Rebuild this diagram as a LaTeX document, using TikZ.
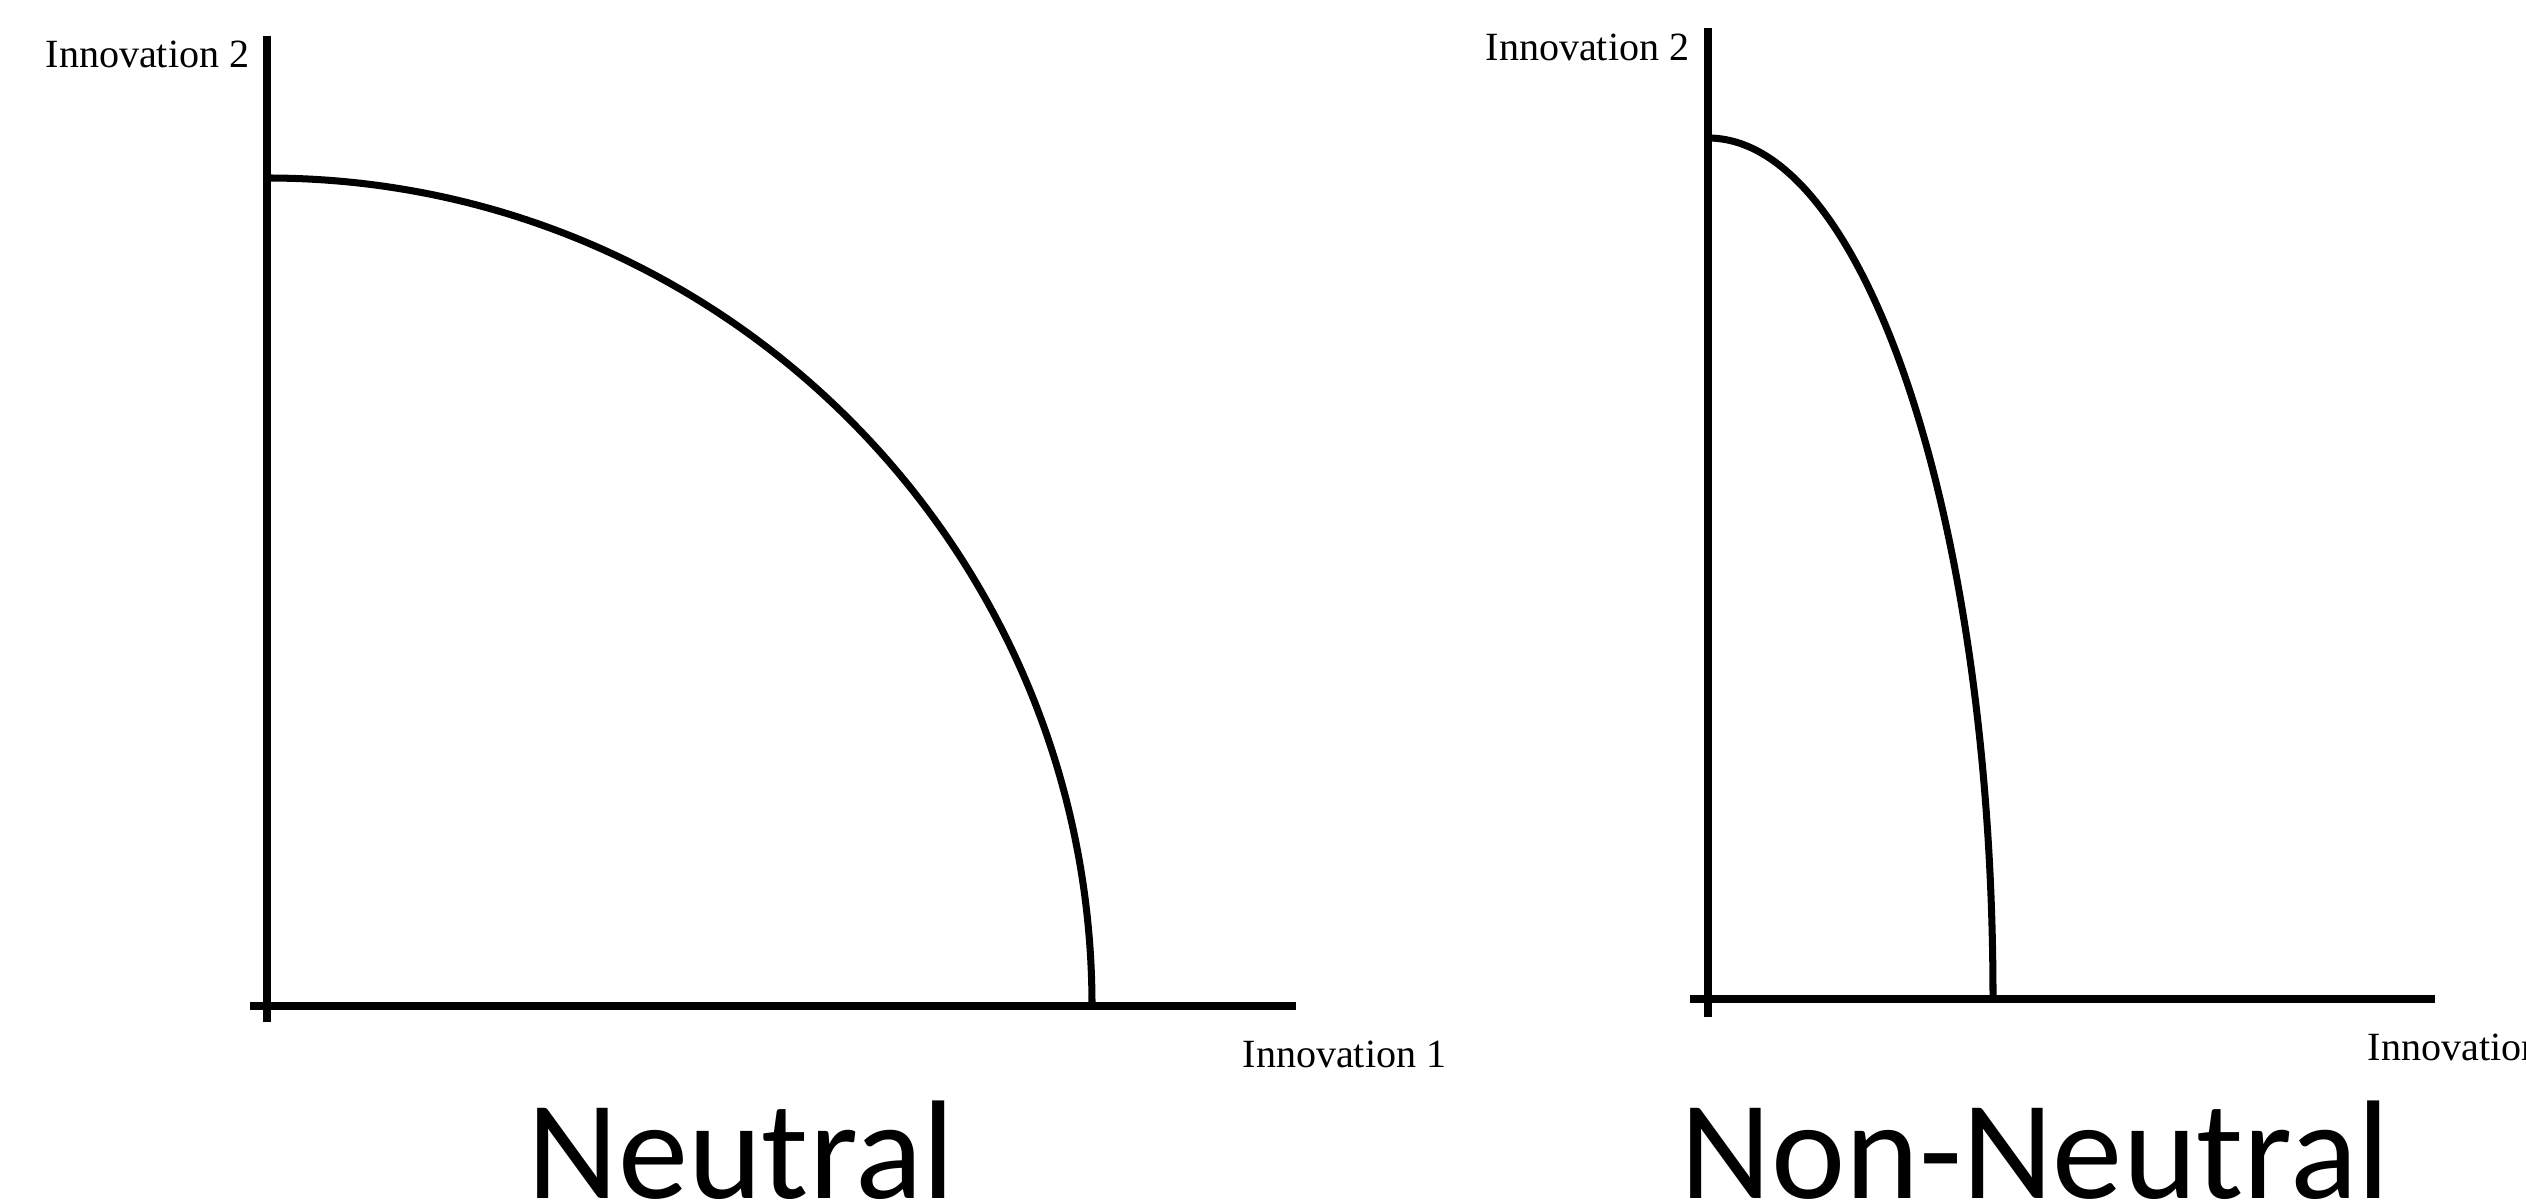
\documentclass[tikz,border=0pt]{standalone}
\usepackage{fontspec}
\setmainfont{Liberation Serif}
\newfontfamily\titlefont{Carlito}
\usepackage{tikz}

\begin{document}
\begin{tikzpicture}[
        axis/.style={line width=2.3pt},
        frontier/.style={line width=2pt},
        axlabel/.style={inner sep=0pt,anchor=base west,font=\fontsize{11.4}{13}\selectfont},
        title/.style={inner sep=0pt,anchor=base,font=\titlefont\fontsize{40}{45}\selectfont}
    ]
        \useasboundingbox (0,0) rectangle (25.26,12.03);
        \clip (0,0) rectangle (25.26,12.03);

        \begin{scope}[shift={(2.67,1.97)}]
            \coordinate (o1) at (0,0);
            \coordinate (top1) at (0,8.28);

            \draw[axis] (0,-0.16) -- (0,9.70);
            \draw[axis] (-0.17,0) -- (10.29,0);
            \draw[frontier] (top1) arc[start angle=90,end angle=0,x radius=8.25,y radius=8.28];

            \node[axlabel] (yneutral) at (-2.22,9.38) {Innovation 2};
            \node[axlabel] (xneutral) at (9.75,-0.61) {Innovation 1};
            \node[title] (neutral) at (4.74,-1.92) {Neutral};
        \end{scope}

        \begin{scope}[shift={(17.08,2.04)}]
            \coordinate (o2) at (0,0);
            \coordinate (top2) at (0,8.61);

            \draw[axis] (0,-0.18) -- (0,9.71);
            \draw[axis] (-0.18,0) -- (7.27,0);
            \draw[frontier] (top2) arc[start angle=90,end angle=0,x radius=2.85,y radius=8.61];

            \node[axlabel] (ynonneutral) at (-2.23,9.38) {Innovation 2};
            \node[axlabel] (xnonneutral) at (6.59,-0.61) {Innovation 1};
            \node[title] (nonneutral) at (3.27,-1.99) {Non-Neutral};
        \end{scope}
    \end{tikzpicture}
\end{document}
